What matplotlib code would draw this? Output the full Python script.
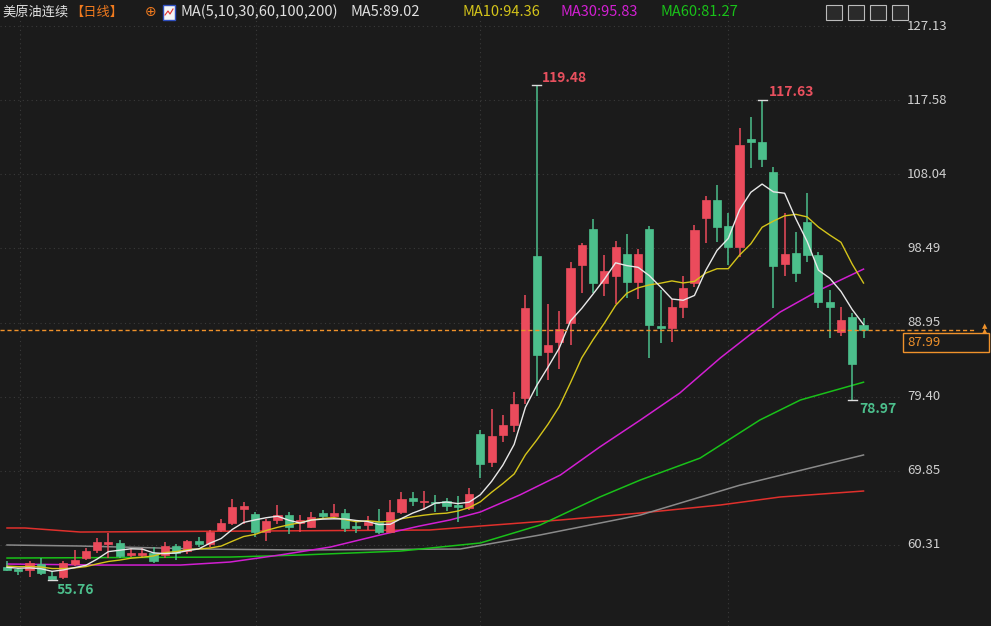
import matplotlib
matplotlib.use("Agg")
import matplotlib.pyplot as plt
from matplotlib.patches import Rectangle
import numpy as np
import pandas as pd

plt.rcParams['font.family'] = ['Noto Sans CJK SC', 'DejaVu Sans']

# OHLC per day
opens  = [57.5,57.2,57.1,57.9,56.3,56.2,57.9,58.7,59.7,60.5,60.6,59.0,59.0,59.3,59.0,60.2,59.6,60.8,60.4,62.3,
          63.2,65.0,64.3,62.0,63.5,64.2,63.1,62.6,64.4,64.0,64.4,62.8,62.9,63.3,62.0,64.6,66.4,65.8,65.9,66.0,
          65.4,65.1,74.6,71.0,74.5,75.8,79.2,97.5,85.2,86.4,88.9,96.4,101.0,94.0,95.0,97.8,94.2,101.0,88.5,88.3,
          91.0,94.0,102.4,104.7,101.4,98.7,112.6,112.2,108.3,96.5,97.9,101.9,97.6,91.6,87.7,89.7,88.6]
closes = [57.1,56.9,58.0,56.7,55.9,58.0,58.4,59.5,60.7,60.7,58.9,59.3,59.3,58.3,60.2,59.3,60.8,60.4,62.0,63.2,
          65.2,65.3,62.0,63.4,64.2,62.6,63.5,63.9,64.0,64.4,62.5,62.5,63.3,62.0,64.6,66.2,66.0,66.0,65.7,65.3,
          65.2,66.9,70.8,74.3,75.8,78.5,90.8,84.8,86.1,88.1,96.0,98.9,94.0,95.6,98.7,94.2,97.8,88.6,88.3,91.0,
          93.4,100.9,104.7,101.2,98.7,111.8,112.2,110.0,96.2,97.8,95.3,97.6,91.6,91.0,89.3,83.6,87.99]
highs  = [58.2,57.4,58.2,58.6,57.0,58.3,59.7,59.9,61.2,61.9,60.9,59.8,59.9,60.0,60.7,60.5,61.0,61.4,62.3,63.6,
          66.2,65.8,64.6,63.6,65.4,64.6,64.2,64.6,64.8,65.6,65.0,63.3,64.0,65.0,66.1,67.1,67.1,67.3,66.8,66.4,
          66.6,67.7,75.1,77.8,77.1,80.0,92.5,119.48,91.3,90.5,96.8,99.2,102.3,97.7,99.4,100.3,98.4,101.4,93.1,92.0,
          95.0,101.5,105.2,106.6,103.0,114.0,115.4,117.63,109.0,103.0,100.6,105.6,98.0,93.1,91.0,90.2,89.5]
lows   = [56.9,56.4,56.2,56.4,55.76,55.9,57.6,58.4,59.3,58.7,58.6,58.8,58.7,58.0,58.7,58.4,59.2,60.0,60.0,62.0,
          62.9,63.0,61.3,60.8,63.0,61.7,62.0,62.5,63.6,63.7,62.0,61.9,62.2,61.7,61.8,64.3,65.3,64.8,64.5,64.7,
          63.3,64.8,68.9,70.3,73.6,74.9,78.5,79.5,81.5,83.0,86.0,92.8,92.7,92.4,91.4,92.1,92.0,84.4,86.3,86.5,
          89.5,93.5,99.2,99.3,96.4,97.4,108.9,109.0,90.8,95.0,94.2,96.7,90.8,87.0,87.2,78.97,87.0]
pre_closes = [57.6,57.8,57.3,57.9,58.1,57.5,57.8,57.2,57.6]  # history before visible window

# moving averages: (day index, value)
ma30_idx = [0,8.3,15.4,19.8,24.2,28.7,33.1,36.6,39.3,42,45.5,49.1,52.6,56.2,59.7,63.3,65.9,68.6,72.1,76]
ma30_val = [57.86,57.73,57.73,58.12,59.02,60.05,61.6,62.75,63.53,64.56,66.75,69.32,72.93,76.4,79.88,84.4,87.35,90.3,93.14,95.83]
ma60_idx = [0,19.8,26,34.9,42,47.3,52.6,56.2,61.5,66.8,70.4,76]
ma60_val = [58.63,58.76,59.02,59.53,60.57,62.88,66.49,68.68,71.5,76.4,78.98,81.27]
ma100_idx = [0,6.5,17.1,26,40.2,47.3,56.2,65,76]
ma100_val = [60.31,60.18,59.79,59.67,59.79,61.6,64.17,68.0,71.9]
ma200_idx = [0,1.6,6.5,37.5,42,49.1,56.2,63.3,68.6,76]
ma200_val = [62.5,62.5,61.98,62.24,62.75,63.53,64.43,65.46,66.49,67.26]

# header values as shown
hdr_ma5, hdr_ma10, hdr_ma30, hdr_ma60 = 89.02, 94.36, 95.83, 81.27

yticks = [127.13,117.58,108.04,98.49,88.95,79.40,69.85,60.31]
last_price = 87.99

BG = '#1b1b1b'
UP = '#eb4b5c'
DN = '#4cbf8c'

fig = plt.figure(figsize=(9.91,6.26), dpi=100, facecolor=BG)
ax = fig.add_axes([0, 0, 900/991, 1])
ax.set_facecolor(BG)
ppx = 0.12875
ax.set_ylim(60.31 - 81*ppx, 127.13 + 26*ppx)
ax.set_xlim(-7/11.27, 893/11.27)
for s in ax.spines.values():
    s.set_visible(False)
ax.set_xticks([]); ax.set_yticks([])

for t in yticks:
    ax.axhline(t, color='#3a3a3a', ls=(0,(1,3)), lw=0.8, zorder=0)
for xp in [20, 256, 480, 728]:
    ax.axvline((xp-7)/11.27, color='#3a3a3a', ls=(0,(1,3)), lw=0.8, zorder=0)

allc = pd.Series(pre_closes + closes)
ma5 = allc.rolling(5).mean().values[len(pre_closes):]
ma10 = allc.rolling(10).mean().values[len(pre_closes):]
n = len(closes)
idx = np.arange(n)

ax.plot(ma200_idx, ma200_val, color='#e0302c', lw=1.1, zorder=1)
ax.plot(ma100_idx, ma100_val, color='#8a8a8a', lw=1.1, zorder=1)
ax.plot(ma60_idx, ma60_val, color='#19c119', lw=1.1, zorder=1)
ax.plot(ma30_idx, ma30_val, color='#d21fd2', lw=1.1, zorder=1)

for i in range(n):
    o, c, h, l = opens[i], closes[i], highs[i], lows[i]
    col = UP if c >= o else DN
    ax.vlines(i, l, h, color=col, lw=1.1, zorder=2)
    bh = max(abs(c-o), 0.15)
    ax.bar(i, bh, bottom=min(o, c), width=0.72, color=col, edgecolor=col, lw=0.5, zorder=3)

ax.plot(idx, ma10, color='#d4c41a', lw=1.0, zorder=4)
ax.plot(idx, ma5, color='#e8e8e8', lw=1.0, zorder=4)

# extremes
imax = int(np.argmax(highs)); imin = int(np.argmin(lows))
ax.text(imax+0.5, highs[imax]+1.0, f"{highs[imax]:.2f}", color='#e8505e', fontsize=10, fontweight='bold', va='center', zorder=5)
ax.plot([imax-0.4, imax+0.4], [highs[imax]]*2, color='#dddddd', lw=1, zorder=5)
ax.text(67+0.6, 117.63+1.0, "117.63", color='#e8505e', fontsize=10, fontweight='bold', va='center', zorder=5)
ax.plot([66.6, 67.4], [117.63]*2, color='#dddddd', lw=1, zorder=5)
ax.text(75+0.6, 78.97-1.2, "78.97", color='#4cbf8c', fontsize=10, fontweight='bold', va='center', zorder=5)
ax.plot([74.6, 75.4], [78.97]*2, color='#dddddd', lw=1, zorder=5)
ax.text(imin+0.4, lows[imin]-1.3, f"{lows[imin]:.2f}", color='#4cbf8c', fontsize=10, fontweight='bold', va='center', zorder=5)
ax.plot([imin-0.4, imin+0.4], [lows[imin]]*2, color='#dddddd', lw=1, zorder=5)

ax.axhline(last_price, color='#f0922b', ls=(0,(3,2)), lw=1.0, zorder=5)

# right axis labels
def ypix(v):
    return 26 + (127.13 - v)/ppx
for t in yticks:
    fig.text(907/991, 1 - ypix(t)/626, f"{t:.2f}", color='#d0d0d0', fontsize=9.5, va='center', ha='left')
fig.patches.append(Rectangle((903/991, 1-352/626), 86/991, 19/626, transform=fig.transFigure,
                             fc=BG, ec='#f0922b', lw=1, zorder=3))
fig.text(907/991, 1 - 342/626, f"{last_price:.2f}", color='#f0922b', fontsize=9.5, va='center', ha='left', zorder=4)
fig.lines.append(plt.Line2D([900/991, 976/991], [1-ypix(last_price)/626]*2, transform=fig.transFigure,
                            color='#f0922b', ls=(0,(3,2)), lw=1.0))
fig.text(985/991, 1 - 326/626, "▲", color='#f0922b', fontsize=5, ha='center', va='center', family='DejaVu Sans')
fig.text(985/991, 1 - 331/626, "▲", color='#f0922b', fontsize=5, ha='center', va='center', family='DejaVu Sans')

# header
hy = 1 - 12/626
fig.text(2/991, hy, "美原油连续", color='#e0e0e0', fontsize=9.5, va='center')
fig.text(70/991, hy, "【日线】", color='#f07a1e', fontsize=9.5, va='center')
fig.text(145/991, hy, "⊕", color='#f07a1e', fontsize=10, va='center', family='DejaVu Sans')
fig.patches.append(Rectangle((163/991, 1-20/626), 12/991, 15/626, transform=fig.transFigure,
                             fc='#f4f4f4', ec='#3050c0', lw=1))
fig.lines.append(plt.Line2D([165/991, 168/991, 170/991, 173/991], [1-15/626, 1-11/626, 1-14/626, 1-9/626],
                            transform=fig.transFigure, color='#e03030', lw=0.8))
fig.text(180/991, hy, "MA(5,10,30,60,100,200)", color='#e0e0e0', fontsize=10.5, va='center')
fig.text(350/991, hy, f"MA5:{hdr_ma5:.2f}", color='#e0e0e0', fontsize=10.5, va='center')
fig.text(462/991, hy, f"MA10:{hdr_ma10:.2f}", color='#d4c41a', fontsize=10.5, va='center')
fig.text(561/991, hy, f"MA30:{hdr_ma30:.2f}", color='#d21fd2', fontsize=10.5, va='center')
fig.text(660/991, hy, f"MA60:{hdr_ma60:.2f}", color='#19c119', fontsize=10.5, va='center')
for bx in [826, 848, 870, 892]:
    fig.patches.append(Rectangle((bx/991, 1-20/626), 16/991, 15/626, transform=fig.transFigure,
                                 fc='#2a2a2a', ec='#bbbbbb', lw=0.8))

fig.savefig("out.png", dpi=100, facecolor=BG)
